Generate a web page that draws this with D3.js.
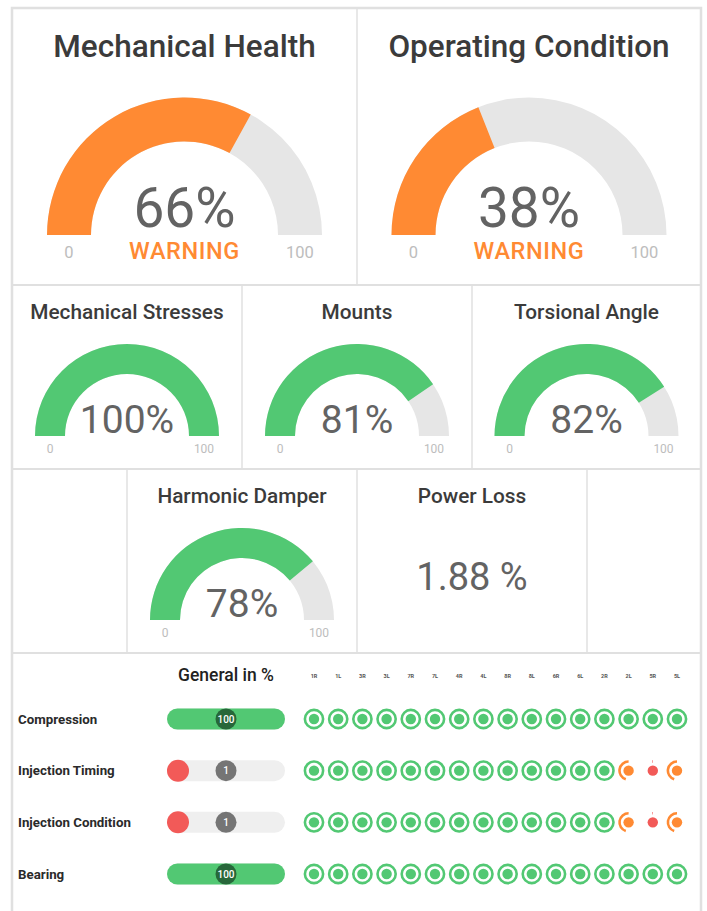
<!DOCTYPE html>
<html>

<head>
	<meta charset="utf-8">
	<script src="https://cdn.jsdelivr.net/npm/d3@7"></script>
	<style>
		body {
			margin: 0;
			background: #fff;
		}

		svg {
			display: block;
			font-family: Roboto, "Noto Sans", sans-serif;
		}
	</style>
</head>

<body>
	<svg></svg>
	<script>
		// Values
		var mainNames = ["Mechanical Health", "Operating Condition"];
		var mainValues = [66, 38];
		var mainStatus = ["WARNING", "WARNING"];

		var smallNames = ["Mechanical Stresses", "Mounts", "Torsional Angle", "Harmonic Damper"];
		var smallValues = [100, 81, 82, 78];

		var lossName = "Power Loss";
		var lossValue = 1.88;

		var tableTitle = "General in %";
		var rowNames = ["Compression", "Injection Timing", "Injection Condition", "Bearing"];
		var generalValues = [100, 1, 1, 100];
		var cylinders = ["1R", "1L", "3R", "3L", "7R", "7L", "4R", "4L", "8R", "8L", "6R", "6L", "2R", "2L", "5R", "5L"];
		var compression = [100, 100, 100, 100, 100, 100, 100, 100, 100, 100, 100, 100, 100, 100, 100, 100];
		var injectionTiming = [100, 100, 100, 100, 100, 100, 100, 100, 100, 100, 100, 100, 100, 45, 1, 45];
		var injectionCondition = [100, 100, 100, 100, 100, 100, 100, 100, 100, 100, 100, 100, 100, 45, 1, 45];
		var bearing = [100, 100, 100, 100, 100, 100, 100, 100, 100, 100, 100, 100, 100, 100, 100, 100];
		var cylinderValues = [compression, injectionTiming, injectionCondition, bearing];

		var width = 707, height = 911;
		var green = "#52c873", orange = "#ff8a33", red = "#f25a58", track = "#e6e6e6";

		function statusColor(v) {
			if (v >= 70) return green;
			if (v >= 30) return orange;
			return red;
		}

		var svg = d3.select("svg")
			.attr("width", width)
			.attr("height", height);

		// cell grid
		var frame = { left: 12, right: 701, top: 8 };
		var cells = [
			{ y0: 8, y1: 285, xs: [12, 357, 701] },
			{ y0: 285, y1: 469, xs: [12, 242, 472, 701] },
			{ y0: 469, y1: 653, xs: [12, 127, 357, 587, 701] }
		];
		var grid = svg.append("g").attr("stroke", "#e0e0e0").attr("fill", "none");
		cells.forEach(function (row) {
			row.xs.slice(1, -1).forEach(function (x) {
				grid.append("line").attr("x1", x).attr("x2", x).attr("y1", row.y0).attr("y2", row.y1)
					.attr("stroke-width", 1.5);
			});
			grid.append("line").attr("x1", frame.left).attr("x2", frame.right).attr("y1", row.y1).attr("y2", row.y1)
				.attr("stroke-width", 2);
		});
		grid.append("path")
			.attr("d", "M" + frame.left + "," + height + "V" + frame.top + "H" + frame.right + "V" + height)
			.attr("stroke-width", 2.5);

		var angle = d3.scaleLinear().domain([0, 100]).range([-Math.PI / 2, Math.PI / 2]);

		function gauge(cx, cy, R, r, value, opt) {
			var g = svg.append("g").attr("transform", "translate(" + cx + "," + cy + ")");
			var arc = d3.arc().innerRadius(r).outerRadius(R);
			g.append("path").attr("d", arc({ startAngle: angle(0), endAngle: angle(100) })).attr("fill", track);
			g.append("path").attr("d", arc({ startAngle: angle(0), endAngle: angle(value) })).attr("fill", statusColor(value));
			g.append("text")
				.attr("text-anchor", "middle")
				.attr("y", opt.valueY)
				.attr("font-size", opt.valueSize)
				.attr("fill", "#636363")
				.text(value + "%");
			var mid = (R + r) / 2;
			g.selectAll(".end").data([0, 100]).join("text")
				.attr("text-anchor", "middle")
				.attr("x", function (d) { return d === 0 ? -mid : mid; })
				.attr("y", opt.endY)
				.attr("font-size", opt.endSize)
				.attr("fill", "#bdbdbd")
				.text(function (d) { return d; });
			return g;
		}

		function title(cx, y, text, size) {
			svg.append("text")
				.attr("x", cx).attr("y", y)
				.attr("text-anchor", "middle")
				.attr("font-size", size)
				.attr("font-weight", 500)
				.attr("fill", "#3b3b3b")
				.text(text);
		}

		// big gauges
		mainNames.forEach(function (name, i) {
			var cx = (cells[0].xs[i] + cells[0].xs[i + 1]) / 2;
			title(cx, 57, name, 31.5);
			var g = gauge(cx, 235, 137.5, 93.5, mainValues[i], { valueY: -8, valueSize: 55, endY: 23, endSize: 16.5 });
			g.append("text")
				.attr("text-anchor", "middle")
				.attr("y", 24)
				.attr("font-size", 23.5)
				.attr("font-weight", 500)
				.attr("letter-spacing", 0.6)
				.attr("fill", statusColor(mainValues[i]))
				.text(mainStatus[i]);
		});

		// small gauges
		var smallPos = [
			{ x: (12 + 242) / 2, base: 436, titleY: 319 },
			{ x: (242 + 472) / 2, base: 436, titleY: 319 },
			{ x: (472 + 701) / 2, base: 436, titleY: 319 },
			{ x: (127 + 357) / 2, base: 620, titleY: 503 }
		];
		smallNames.forEach(function (name, i) {
			var p = smallPos[i];
			title(p.x, p.titleY, name, 20.8);
			gauge(p.x, p.base, 92, 62, smallValues[i], { valueY: -3, valueSize: 39, endY: 17, endSize: 12 });
		});

		// power loss
		var lossX = (357 + 587) / 2;
		title(lossX, 503, lossName, 20.8);
		svg.append("text")
			.attr("x", lossX).attr("y", 590)
			.attr("text-anchor", "middle")
			.attr("font-size", 38)
			.attr("fill", "#636363")
			.text(lossValue + " %");

		// table
		var y = d3.scalePoint().domain(rowNames).range([719, 874]);
		var x = d3.scalePoint().domain(cylinders).range([314, 677]);
		var barX0 = 167, barW = 118, barH = 21;
		var barScale = d3.scaleLinear().domain([0, 100]).range([0, barW]);

		svg.append("text")
			.attr("x", barX0 + barW / 2).attr("y", 681)
			.attr("text-anchor", "middle")
			.attr("font-size", 17.5)
			.attr("font-weight", 500)
			.attr("fill", "#222")
			.text(tableTitle);

		svg.append("g").selectAll("text").data(cylinders).join("text")
			.attr("x", function (d) { return x(d); })
			.attr("y", 678)
			.attr("text-anchor", "middle")
			.attr("font-size", 5.5)
			.attr("font-weight", 700)
			.attr("fill", "#555")
			.text(function (d) { return d; });

		var rows = svg.append("g").selectAll("g").data(rowNames).join("g")
			.attr("transform", function (d) { return "translate(0," + y(d) + ")"; });

		rows.append("text")
			.attr("x", 18).attr("y", 4.5)
			.attr("font-size", 13.3)
			.attr("font-weight", 700)
			.attr("fill", "#2a2a2a")
			.text(function (d) { return d; });

		rows.append("rect")
			.attr("x", barX0).attr("y", -barH / 2)
			.attr("width", barW).attr("height", barH)
			.attr("rx", barH / 2)
			.attr("fill", "#efefef");

		rows.each(function (d, i) {
			var row = d3.select(this);
			var v = generalValues[i];
			var w = Math.max(barH + 1, barScale(v));
			var h = w > barH + 1 ? barH : barH + 1;
			row.append("rect")
				.attr("x", barX0).attr("y", -h / 2)
				.attr("width", w).attr("height", h)
				.attr("rx", h / 2)
				.attr("fill", statusColor(v));
			row.append("circle")
				.attr("cx", barX0 + barW / 2).attr("r", 10.5)
				.attr("fill", v >= 70 ? "#27673a" : "#757575");
			row.append("text")
				.attr("x", barX0 + barW / 2).attr("y", 3.5)
				.attr("text-anchor", "middle")
				.attr("font-size", 10)
				.attr("font-weight", 500)
				.attr("fill", "#fff")
				.text(v);

			var ring = d3.arc().innerRadius(7.8).outerRadius(10.4);
			var dots = row.selectAll(".cyl").data(cylinderValues[i]).join("g")
				.attr("class", "cyl")
				.attr("transform", function (c, j) { return "translate(" + x(cylinders[j]) + ",0)"; });
			dots.append("path")
				.attr("d", function (c) { return ring({ startAngle: 0, endAngle: -c / 100 * 2 * Math.PI }); })
				.attr("fill", function (c) { return statusColor(c); });
			dots.append("circle")
				.attr("r", 5.2)
				.attr("fill", function (c) { return statusColor(c); });
		});
	</script>
</body>

</html>
